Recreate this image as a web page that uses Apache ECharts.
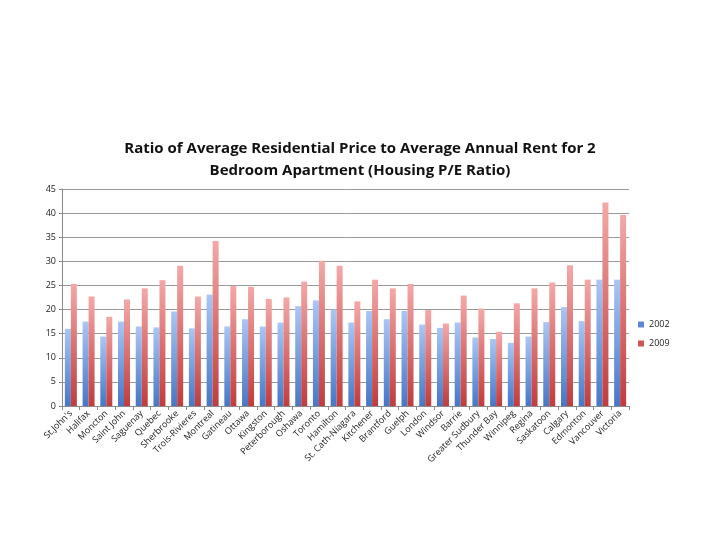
<!DOCTYPE html>
<html><head><meta charset="utf-8">
<script src="https://cdn.jsdelivr.net/npm/echarts@6/dist/echarts.min.js"></script>
<style>html,body{margin:0;padding:0;background:#fff}#c{width:720px;height:540px}</style>
</head><body><div id="c"></div>
<script>
var cities = ["St.John's","Halifax","Moncton","Saint John","Saguenay","Quebec","Sherbrooke","Trois-Rivieres","Montreal","Gatineau","Ottawa","Kingston","Peterborough","Oshawa","Toronto","Hamilton","St. Cath-Niagara","Kitchener","Brantford","Guelph","London","Windsor","Barrie","Greater Sudbury","Thunder Bay","Winnipeg","Regina","Saskatoon","Calgary","Edmonton","Vancouver","Victoria"];
var v2002 = [16.0,17.5,14.4,17.5,16.5,16.3,19.6,16.1,23.1,16.5,18.0,16.5,17.3,20.7,21.9,20.0,17.3,19.7,18.0,19.7,16.9,16.2,17.3,14.2,13.9,13.1,14.4,17.4,20.5,17.6,26.2,26.2];
var v2009 = [25.3,22.7,18.5,22.1,24.4,26.1,29.1,22.7,34.2,24.9,24.7,22.2,22.5,25.8,30.1,29.1,21.7,26.2,24.4,25.3,19.9,17.1,22.9,20.2,15.4,21.3,24.4,25.6,29.2,26.2,42.2,39.6];
var yTicks = {min:0, max:45, interval:5};
var titleText = "Ratio of Average Residential Price to Average Annual Rent for 2\nBedroom Apartment (Housing P/E Ratio)";

var chart = echarts.init(document.getElementById('c'), null, {renderer:'canvas'});
function grad(top, bottom){
  return new echarts.graphic.LinearGradient(0,0,0,1,[{offset:0,color:top},{offset:1,color:bottom}]);
}
var font = "'Open Sans', 'Liberation Sans', sans-serif";
chart.setOption({
  animation:false,
  backgroundColor:'#fff',
  title:{text:titleText,left:'center',top:133,
    textStyle:{fontFamily:font,fontSize:15,fontWeight:'bold',color:'#111',lineHeight:22}},
  legend:{orient:'vertical',left:633,top:315,itemWidth:6,itemHeight:6,itemGap:10,
    icon:'rect',
    textStyle:{fontFamily:font,fontSize:9,color:'#222'},
    data:[{name:'2002',itemStyle:{color:'#5a8ad6'}},{name:'2009',itemStyle:{color:'#d05555'}}]},
  grid:{left:62,right:91,top:189,bottom:134,containLabel:false},
  xAxis:{type:'category',data:cities,
    axisLine:{lineStyle:{color:'#8a8a8a',width:1}},
    axisTick:{show:true,length:4,lineStyle:{color:'#8a8a8a'}},
    axisLabel:{interval:0,rotate:45,fontFamily:font,fontSize:9,color:'#222',margin:6}},
  yAxis:{type:'value',min:yTicks.min,max:yTicks.max,interval:yTicks.interval,
    axisLine:{show:true,lineStyle:{color:'#8a8a8a'}},
    axisTick:{show:true,length:3,lineStyle:{color:'#8a8a8a'}},
    splitLine:{lineStyle:{color:'#999',width:1}},
    axisLabel:{fontFamily:font,fontSize:9,color:'#222',margin:6}},
  series:[
    {name:'2002',type:'bar',data:v2002,barWidth:6,barGap:'0%',
      itemStyle:{color:grad('#aac6f4','#4677c6')}},
    {name:'2009',type:'bar',data:v2009,barWidth:6,barGap:'0%',
      itemStyle:{color:grad('#f4a8a8','#c03c3c')}}
  ]
});
</script></body></html>
